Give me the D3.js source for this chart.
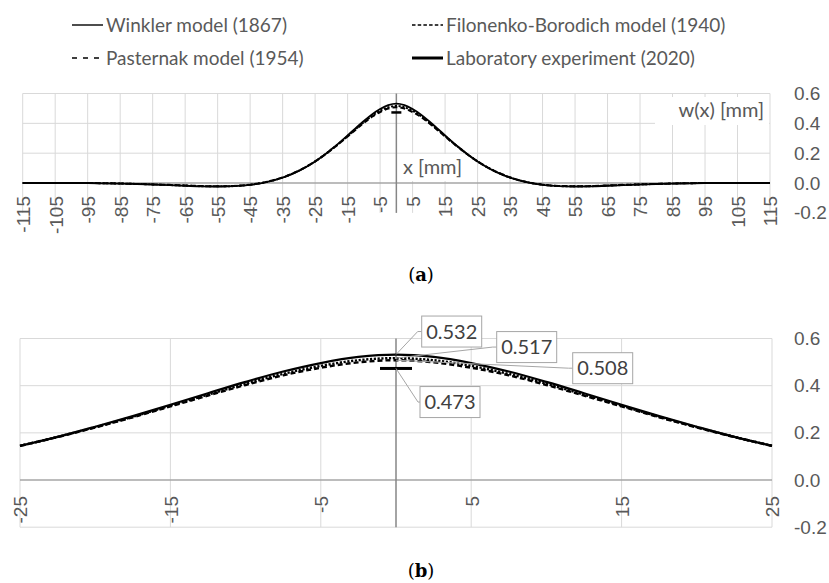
<!DOCTYPE html>
<html>
<head>
<meta charset="utf-8">
<script src="https://cdn.jsdelivr.net/npm/d3@7"></script>
<style>
  html, body { margin: 0; padding: 0; background: #fff; }
  svg { display: block; font-family: Lato, "Open Sans", sans-serif; }
</style>
</head>
<body>
<svg id="chart" width="829" height="583"></svg>
<script>
(() => {
  "use strict";

  // deflection w(x) [mm] at position x [mm]
  const xMm = [-115, -110, -105, -100, -95, -90, -85, -80, -75, -70, -65, -60, -55, -50, -45, -40, -35, -30,
    -27.5, -25, -22.5, -20, -17.5, -15, -12.5, -10, -7.5, -5, -2.5, 0, 2.5, 5, 7.5, 10, 12.5, 15, 17.5, 20, 22.5, 25, 27.5,
    30, 35, 40, 45, 50, 55, 60, 65, 70, 75, 80, 85, 90, 95, 100, 105, 110, 115];

  const winkler = [0.000, 0.000, 0.000, 0.000, 0.000, -0.002, -0.004, -0.006, -0.010, -0.014, -0.018, -0.022, -0.023, -0.021, -0.012, 0.006, 0.036, 0.082,
    0.111, 0.145, 0.183, 0.226, 0.271, 0.319, 0.368, 0.416, 0.460, 0.496, 0.522, 0.532, 0.522, 0.496, 0.460, 0.416, 0.368, 0.319, 0.271, 0.226, 0.183, 0.145, 0.111,
    0.082, 0.036, 0.006, -0.012, -0.021, -0.023, -0.022, -0.018, -0.014, -0.010, -0.006, -0.004, -0.002, 0.000, 0.000, 0.000, 0.000, 0.000];

  const filonenko = [0.000, 0.000, 0.000, 0.000, 0.000, -0.001, -0.003, -0.006, -0.009, -0.013, -0.017, -0.021, -0.022, -0.020, -0.011, 0.007, 0.037, 0.083,
    0.112, 0.145, 0.183, 0.224, 0.268, 0.315, 0.362, 0.408, 0.450, 0.484, 0.508, 0.517, 0.508, 0.484, 0.450, 0.408, 0.362, 0.315, 0.268, 0.224, 0.183, 0.145, 0.112,
    0.083, 0.037, 0.007, -0.011, -0.020, -0.022, -0.021, -0.017, -0.013, -0.009, -0.006, -0.003, -0.001, 0.000, 0.000, 0.000, 0.000, 0.000];

  const pasternak = [0.000, 0.000, 0.000, 0.000, 0.000, -0.001, -0.003, -0.006, -0.009, -0.012, -0.016, -0.020, -0.021, -0.019, -0.011, 0.008, 0.038, 0.083,
    0.112, 0.145, 0.182, 0.223, 0.266, 0.312, 0.358, 0.403, 0.444, 0.476, 0.499, 0.508, 0.499, 0.476, 0.444, 0.403, 0.358, 0.312, 0.266, 0.223, 0.182, 0.145, 0.112,
    0.083, 0.038, 0.008, -0.011, -0.019, -0.021, -0.020, -0.016, -0.012, -0.009, -0.006, -0.003, -0.001, 0.000, 0.000, 0.000, 0.000, 0.000];

  const labX = [0];
  const labW = [0.473];

  const seriesNames = ["Winkler model (1867)", "Filonenko-Borodich model (1940)", "Pasternak model (1954)", "Laboratory experiment (2020)"];

  const ticksA = [-115, -105, -95, -85, -75, -65, -55, -45, -35, -25, -15, -5, 5, 15, 25, 35, 45, 55, 65, 75, 85, 95, 105, 115];
  const ticksB = [-25, -15, -5, 5, 15, 25];
  const yTicks = [-0.2, 0.0, 0.2, 0.4, 0.6];

  const TEXT = "#595959";
  const GRID = "#d9d9d9";

  const styles = {
    "Winkler model (1867)": { dash: null, w: 1.5 },
    "Filonenko-Borodich model (1940)": { dash: "2.2,1.6", w: 1.6 },
    "Pasternak model (1954)": { dash: "5,3", w: 1.6 },
    "Laboratory experiment (2020)": { dash: null, w: 3 }
  };

  const curves = [
    { name: seriesNames[0], w: winkler },
    { name: seriesNames[1], w: filonenko },
    { name: seriesNames[2], w: pasternak }
  ];

  const svg = d3.select("#chart");

  // ---- legend ----
  const legend = [
    { name: seriesNames[0], x: 72, y: 25, legDash: null, legW: 1.4 },
    { name: seriesNames[1], x: 412, y: 25, legDash: "3.5,2.2", legW: 1.4 },
    { name: seriesNames[2], x: 72, y: 58, legDash: "5,6", legW: 1.4 },
    { name: seriesNames[3], x: 412, y: 58, legDash: null, legW: 3 }
  ];
  const lg = svg.append("g").selectAll("g").data(legend).join("g")
    .attr("transform", d => `translate(${d.x},${d.y})`);
  lg.append("line").attr("x1", 0).attr("x2", 31).attr("y1", 0).attr("y2", 0)
    .attr("stroke", "#000").attr("stroke-width", d => d.legW)
    .attr("stroke-dasharray", d => d.legDash);
  lg.append("text").attr("x", 34).attr("dy", "0.35em")
    .attr("fill", TEXT).style("font-size", "19px").text(d => d.name);

  // ---- panels ----
  function panel(o) {
    const x = d3.scaleLinear().domain(o.xDomain).range([o.left, o.right]);
    const y = d3.scaleLinear().domain([-0.2, 0.6]).range([o.bottom, o.top]);
    const g = svg.append("g");

    g.append("g").selectAll("line").data(o.xTicks).join("line")
      .attr("x1", d => x(d)).attr("x2", d => x(d))
      .attr("y1", y(0.6)).attr("y2", y(-0.2))
      .attr("stroke", GRID).attr("stroke-width", 1);
    g.append("g").selectAll("line").data(o.hGrid).join("line")
      .attr("x1", o.left).attr("x2", o.right)
      .attr("y1", d => y(d)).attr("y2", d => y(d))
      .attr("stroke", GRID).attr("stroke-width", 1);

    // axis title boxes (panel a only)
    (o.titles || []).forEach(t => {
      g.append("rect").attr("x", t.rx).attr("y", t.ry).attr("width", t.rw).attr("height", t.rh).attr("fill", "#fff");
      g.append("text").attr("x", t.tx).attr("y", t.ty).attr("dy", "0.35em")
        .attr("text-anchor", t.anchor).attr("fill", TEXT).style("font-size", "20px").text(t.text);
    });

    // zero line and vertical axis at x = 0
    g.append("line").attr("x1", o.left).attr("x2", o.right).attr("y1", y(0)).attr("y2", y(0))
      .attr("stroke", "#a6a6a6").attr("stroke-width", 1.5);
    g.append("line").attr("x1", x(0)).attr("x2", x(0)).attr("y1", y(0.6)).attr("y2", y(-0.2))
      .attr("stroke", "#868686").attr("stroke-width", 1.5);

    // y labels on the right
    const ya = g.append("g").attr("transform", `translate(${o.right},0)`)
      .call(d3.axisRight(y).tickValues(yTicks).tickSize(0).tickPadding(794 - o.right)
        .tickFormat(d => d.toFixed(1)));
    ya.select(".domain").remove();
    ya.selectAll("text").attr("fill", TEXT).style("font-size", "19px").style("font-family", null);

    // rotated x labels below the zero line
    const xa = g.append("g").attr("transform", `translate(0,${y(0)})`)
      .call(d3.axisBottom(x).tickValues(o.xTicks).tickSize(0).tickFormat(d => String(d)));
    xa.select(".domain").remove();
    xa.selectAll("text")
      .attr("transform", "rotate(-90)").attr("text-anchor", "end")
      .attr("x", -o.labelGap).attr("y", 0).attr("dy", "0.36em")
      .attr("fill", TEXT).style("font-size", "19px").style("font-family", null);

    // model curves
    const line = d3.line().x(d => x(d[0])).y(d => y(d[1])).curve(d3.curveCatmullRom.alpha(0.5));
    g.append("g").selectAll("path").data(curves).join("path")
      .attr("d", c => line(xMm.map((v, i) => [v, c.w[i]]).filter(p => p[0] >= o.xDomain[0] && p[0] <= o.xDomain[1])))
      .attr("fill", "none").attr("stroke", "#000")
      .attr("stroke-width", c => styles[c.name].w * o.lineScale)
      .attr("stroke-dasharray", c => styles[c.name].dash)
      .attr("stroke-linejoin", "round");

    // laboratory measurement: dash marker
    g.append("g").selectAll("line").data(labX.map((v, i) => [v, labW[i]])).join("line")
      .attr("x1", d => x(d[0]) - o.markerHalf).attr("x2", d => x(d[0]) + o.markerHalf)
      .attr("y1", d => y(d[1])).attr("y2", d => y(d[1]))
      .attr("stroke", "#000").attr("stroke-width", o.markerW);

    // data callouts
    if (o.callouts) {
      const i0 = xMm.indexOf(0);
      const vals = [winkler[i0], filonenko[i0], pasternak[i0], labW[0]];
      const cg = g.append("g").selectAll("g").data(o.callouts.map((c, k) => ({ ...c, v: vals[k] }))).join("g");
      cg.each(function (c) {
        const ax = x(0), ay = y(c.v);
        const bx = ax + c.dx, by = ay + c.dy;
        const s = d3.select(this);
        s.append("polyline")
          .attr("points", [[ax, ay], [bx - c.kink, by], [bx, by]].map(p => p.join(",")).join(" "))
          .attr("fill", "none").attr("stroke", "#a6a6a6").attr("stroke-width", 1);
        s.append("rect").attr("x", bx).attr("y", by - 15.5).attr("width", 60).attr("height", 31)
          .attr("fill", "#fff").attr("stroke", "#a6a6a6").attr("stroke-width", 1);
        s.append("text").attr("x", bx + 30).attr("y", by).attr("dy", "0.36em")
          .attr("text-anchor", "middle").attr("fill", "#404040").style("font-size", "20px")
          .text(d3.format(".3f")(c.v));
      });
    }
    return g;
  }

  panel({
    xDomain: [-115, 115], left: 22.7, right: 770, top: 93.5, bottom: 212.9,
    xTicks: ticksA, hGrid: [0.2, 0.4, 0.6], labelGap: 13,
    lineScale: 1.25, markerHalf: 5, markerW: 2.5,
    titles: [
      { text: "w(x) [mm]", rx: 655, ry: 97, rw: 114, rh: 28, tx: 764, ty: 110, anchor: "end" },
      { text: "x [mm]", rx: 399, ry: 154, rw: 66, rh: 27, tx: 403, ty: 167, anchor: "start" }
    ]
  });

  panel({
    xDomain: [-25, 25], left: 20, right: 772, top: 338.5, bottom: 527.2,
    xTicks: ticksB, hGrid: [-0.2, 0.2, 0.4, 0.6], labelGap: 16,
    lineScale: 1.5, markerHalf: 16, markerW: 3,
    callouts: [
      { dx: 25.7, dy: -23, kink: 4 },
      { dx: 100.7, dy: -11, kink: 4 },
      { dx: 176.7, dy: 8, kink: 4 },
      { dx: 24, dy: 33.6, kink: 2 }
    ]
  });

  // captions
  const cap = svg.append("g").style("font-family", "'DejaVu Serif', 'Liberation Serif', serif")
    .style("font-size", "18px").attr("fill", "#000");
  [["a", 281], ["b", 577]].forEach(([l, yy]) => {
    const t = cap.append("text").attr("x", 421).attr("y", yy).attr("text-anchor", "middle");
    t.append("tspan").text("(");
    t.append("tspan").attr("font-weight", "bold").text(l);
    t.append("tspan").text(")");
  });
})();
</script>
</body>
</html>
